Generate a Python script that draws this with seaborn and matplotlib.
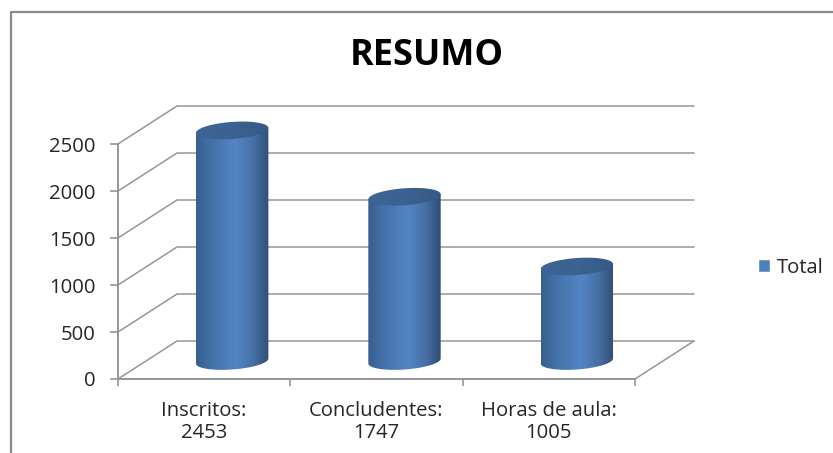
import numpy as np
import pandas as pd
import matplotlib
matplotlib.use('Agg')
import matplotlib.pyplot as plt
import seaborn as sns
from matplotlib.colors import LinearSegmentedColormap
from matplotlib.lines import Line2D
from matplotlib.path import Path
from matplotlib.patches import PathPatch

categories = ['Inscritos', 'Concludentes', 'Horas de aula']
values = [2453, 1747, 1005]
series_name = ['Total', 'Total', 'Total']
y_ticks = [0, 500, 1000, 1500, 2000, 2500]

W, H = 833, 453
GRAY = '#969696'
TXT = '#262626'

sns.set_style('white')
plt.rcParams['font.family'] = ['Open Sans', 'DejaVu Sans']


def px_box(x0, y_top, x1, y_bottom):
    # pixel box (origin top left) -> figure fractions
    return [x0 / W, 1 - y_bottom / H, (x1 - x0) / W, (y_bottom - y_top) / H]


fig = plt.figure(figsize=(W / 100, H / 100), dpi=100, facecolor='white')

# front plane of the 3d box, holds the axis and the wall lines
ax = fig.add_axes(px_box(118, 144, 635, 379))
ax.set_xlim(-0.5, 2.5)
ax.set_ylim(0, 2500)
ax.set_yticks(y_ticks)
ax.set_xticks(range(len(categories)))
ax.set_xticklabels([f'{c}:\n{v}' for c, v in zip(categories, values)], fontsize=14.6, color=TXT, linespacing=1.12)
ax.set_xticks([-0.5, 0.5, 1.5, 2.5], minor=True)
ax.tick_params(axis='y', labelsize=14.6, colors=TXT, length=6, width=1.2, color=GRAY, pad=10, left=True)
ax.tick_params(axis='x', which='major', length=0, pad=16)
ax.tick_params(axis='x', which='minor', length=5, width=1.2, color=GRAY, bottom=True)
for name, sp in ax.spines.items():
    sp.set_visible(name in ('left', 'bottom'))
    sp.set_color(GRAY)
    sp.set_linewidth(1.4)

# depth of the box in data units (59 px right, 38 px up)
dx = 59 / (517 / 3)
dy = 38 / (235 / 2500)
for v in y_ticks:
    ax.plot([-0.5, -0.5 + dx, 2.5 + dx], [v, v + dy, v + dy], color=GRAY, lw=1.1, clip_on=False, zorder=1)
ax.plot([2.5, 2.5 + dx], [0, dy], color=GRAY, lw=1.1, clip_on=False, zorder=1)

# the cylinders stand half way into the box
ax2 = fig.add_axes(px_box(118 + 28, 144 - 18, 635 + 28, 379 - 18))
ax2.patch.set_alpha(0)
df = pd.DataFrame({'categoria': categories, 'valor': values, 'serie': series_name})
sns.barplot(data=df, x='categoria', y='valor', hue='serie', palette=['#4f81bd'], width=0.42, dodge=False,
            saturation=1, ax=ax2)

side = LinearSegmentedColormap.from_list('side', [(0, '#38608f'), (0.25, '#4674ad'), (0.55, '#5385c6'),
                                                  (0.8, '#466fa3'), (1, '#2f4e75')])
cap = LinearSegmentedColormap.from_list('cap', ['#3d6595', '#3b6290', '#365a85'])

px_y = 2500 / 235
b = 8.5 * px_y
shear = 2.5 * px_y
t = np.linspace(0, 2 * np.pi, 121)
for bar in ax2.containers[0]:
    bar.set_visible(False)
    x0, w, h = bar.get_x(), bar.get_width(), bar.get_height()
    cx, a = x0 + w / 2, w / 2
    ex = cx + a * np.cos(t)

    # side of the cylinder: top edge to right, lower half of the base back to left
    lower = t[:61]
    sx = cx + a * np.cos(lower)
    sy = -b * np.sin(lower) + shear * np.cos(lower)
    px = np.r_[sx, x0, x0 + w]
    py = np.r_[sy, h - shear, h + shear]
    body = PathPatch(Path(np.c_[px, py]), transform=ax2.transData, fc='none', ec='none', clip_on=False)
    ax2.add_patch(body)
    im = ax2.imshow(np.linspace(0, 1, 128)[None, :], cmap=side, aspect='auto', zorder=3, interpolation='bilinear',
                    extent=[x0, x0 + w, -b - shear, h + b + shear])
    im.set_clip_box(fig.bbox)
    im.set_clip_path(body)

    top = PathPatch(Path(np.c_[ex, h + b * np.sin(t) + shear * np.cos(t)]), transform=ax2.transData,
                    fc='none', ec='none', clip_on=False)
    ax2.add_patch(top)
    im2 = ax2.imshow(np.linspace(0, 1, 64)[None, :], cmap=cap, aspect='auto', zorder=4, interpolation='bilinear',
                     extent=[x0, x0 + w, h - b - shear, h + b + shear])
    im2.set_clip_box(fig.bbox)
    im2.set_clip_path(top)

ax2.set_xlim(-0.5, 2.5)
ax2.set_ylim(0, 2500)
ax2.axis('off')
sns.move_legend(ax2, 'center left', bbox_to_anchor=(758 / W, 1 - 268 / H), bbox_transform=fig.transFigure,
                frameon=False, title='', fontsize=14.6, labelcolor=TXT, handlelength=0.6, handleheight=0.6,
                handletextpad=0.35, borderpad=0, borderaxespad=0)

fig.text(427 / W, 1 - 65 / H, 'RESUMO', va='baseline', ha='center', fontsize=26, fontweight='bold', color='black')

# frame of the chart object, only left and top show in the screenshot
fig.add_artist(Line2D([10.5 / W, 10.5 / W, 1], [0, 1 - 12 / H, 1 - 12 / H], color='#8a8a8a', lw=1.6))

fig.savefig('out.png', dpi=100)
